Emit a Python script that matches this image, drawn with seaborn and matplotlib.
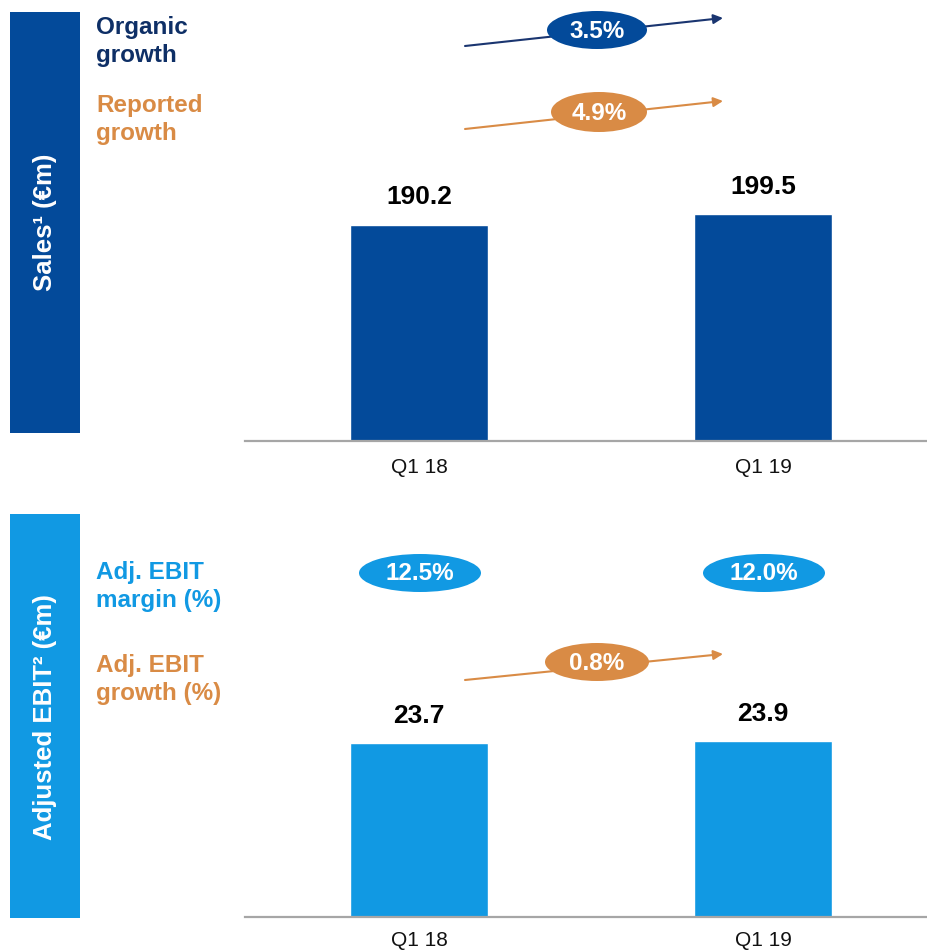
import matplotlib
matplotlib.use("Agg")
import matplotlib.pyplot as plt
import seaborn as sns
import pandas as pd
from matplotlib.patches import Rectangle, Ellipse

# ---- data ----
periods = ["Q1 18", "Q1 19"]
sales = [190.2, 199.5]
adj_ebit = [23.7, 23.9]
organic_growth = "3.5%"
reported_growth = "4.9%"
ebit_margin = ["12.5%", "12.0%"]
ebit_growth = "0.8%"

DARK = "#034A9A"
NAVY = "#0E2F66"
LIGHT = "#1199E3"
ORANGE = "#D98B45"
GREY = "#A6A6A6"

sns.set_theme(style="white")
plt.rcParams["font.family"] = ["Liberation Sans", "DejaVu Sans"]

W, H = 927, 950
fig = plt.figure(figsize=(W / 100, H / 100), dpi=100)

df_sales = pd.DataFrame({"period": periods, "value": sales})
df_ebit = pd.DataFrame({"period": periods, "value": adj_ebit})


def make_axes(base_px, top_px, scale, df, color, pad):
    ax = fig.add_axes([245 / W, (H - base_px) / H, (W - 245) / W, (base_px - top_px) / H])
    sns.barplot(data=df, x="period", y="value", color=color, width=0.4,
                saturation=1, ax=ax)
    ax.set_xlim(-0.506, 1.477)
    ax.set_ylim(0, (base_px - top_px) / scale)
    for s in ["top", "right", "left"]:
        ax.spines[s].set_visible(False)
    ax.spines["bottom"].set_color(GREY)
    ax.spines["bottom"].set_linewidth(1.6)
    ax.set_yticks([])
    ax.set_xlabel("")
    ax.set_ylabel("")
    ax.tick_params(axis="x", length=0, pad=pad, labelsize=15, labelcolor="#111111")
    ax.patch.set_alpha(0)
    for i, v in enumerate(df["value"]):
        ax.annotate(f"{v:.1f}", xy=(i, v), xytext=(0, 11), textcoords="offset points",
                    ha="center", va="bottom", fontsize=19, fontweight="bold", color="black")
    return ax


ax1 = make_axes(441, 0, 1.137, df_sales, DARK, 12)
ax2 = make_axes(917, 500, 7.35, df_ebit, LIGHT, 10)

# overlay in pixel coordinates
ov = fig.add_axes([0, 0, 1, 1])
ov.set_xlim(0, W)
ov.set_ylim(H, 0)
ov.set_axis_off()
ov.patch.set_alpha(0)

# side bands
ov.add_patch(Rectangle((10, 12), 70, 421, color=DARK, lw=0))
ov.text(45, 222, "Sales¹ (€m)", rotation=90, ha="center", va="center",
        color="white", fontsize=18.5, fontweight="bold")
ov.add_patch(Rectangle((10, 514), 70, 404, color=LIGHT, lw=0))
ov.text(45, 717, "Adjusted EBIT² (€m)", rotation=90, ha="center", va="center",
        color="white", fontsize=18.5, fontweight="bold")

# left labels
lbl = dict(ha="left", va="top", fontsize=17.5, fontweight="bold", linespacing=1.3)
ov.text(96, 16, "Organic\ngrowth", color=NAVY, **lbl)
ov.text(96, 94, "Reported\ngrowth", color=ORANGE, **lbl)
ov.text(96, 561, "Adj. EBIT\nmargin (%)", color=LIGHT, **lbl)
ov.text(96, 654, "Adj. EBIT\ngrowth (%)", color=ORANGE, **lbl)


def arrow_badge(x0, y0, x1, y1, cx, cy, w, h, line_color, fill, txt):
    ov.annotate("", xy=(x1, y1), xytext=(x0, y0),
                arrowprops=dict(arrowstyle="-|>", color=line_color, lw=1.5,
                                mutation_scale=14, shrinkA=0, shrinkB=0))
    ov.add_patch(Ellipse((cx, cy), w, h, color=fill, lw=0, zorder=3))
    ov.text(cx, cy + 1, txt, ha="center", va="center", color="white",
            fontsize=17.5, fontweight="bold", zorder=4)


arrow_badge(465, 46, 723, 18, 597, 30, 100, 38, "#1A3570", DARK, organic_growth)
arrow_badge(465, 129, 723, 101, 599, 112, 96, 40, ORANGE, ORANGE, reported_growth)
arrow_badge(465, 680, 723, 654, 597, 662, 104, 38, ORANGE, ORANGE, ebit_growth)

for cx, t in zip([420, 764], ebit_margin):
    ov.add_patch(Ellipse((cx, 573), 122, 38, color=LIGHT, lw=0, zorder=3))
    ov.text(cx, 574, t, ha="center", va="center", color="white",
            fontsize=17.5, fontweight="bold", zorder=4)

fig.savefig("out.png", dpi=100)
